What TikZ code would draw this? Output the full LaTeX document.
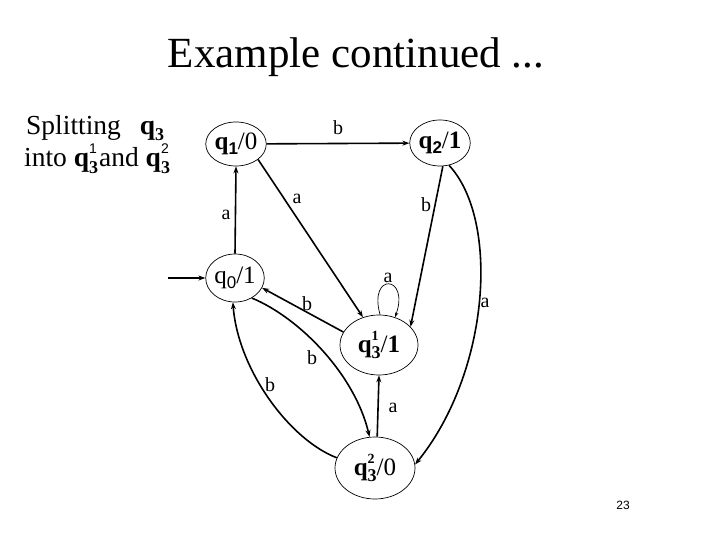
\documentclass[tikz,border=0pt]{standalone}
\usepackage{fontspec}
\setmainfont{Liberation Serif}
\setsansfont{Liberation Sans}
\usetikzlibrary{shapes.geometric,arrows.meta}
% node labels: sans subscript
\newcommand\qsub[1]{\textbf{q}\raisebox{-0.4ex}{\sffamily\bfseries\fontsize{17}{17}\selectfont #1}}
% stacked super/subscript (serif bold subscript)
\newcommand\qsubsup[2]{\textbf{q}\makebox[0pt][l]{\raisebox{1.05ex}{\bfseries\fontsize{14}{14}\selectfont #2}}\raisebox{-0.5ex}{\bfseries\fontsize{18}{18}\selectfont #1}}
% left text
\newcommand\tqsub[1]{\textbf{q}\raisebox{-0.45ex}{\bfseries\fontsize{18}{18}\selectfont #1}}
\newcommand\tqsubsup[2]{\textbf{q}\makebox[0pt][l]{\raisebox{1.1ex}{\sffamily\fontsize{14}{14}\selectfont #2}}\raisebox{-0.55ex}{\bfseries\fontsize{18}{18}\selectfont #1}}
\begin{document}
\begin{tikzpicture}[x=1pt,y=-1pt,
  state/.style={ellipse,draw,line width=0.7pt,inner sep=0pt,font=\fontsize{25}{25}\selectfont},
  edge/.style={line width=1.6pt,-{Stealth[length=7pt,width=5pt]}},
  lbl/.style={font=\fontsize{20}{20}\selectfont,inner sep=0pt}]
\useasboundingbox (0,0) rectangle (720,540);
\node[anchor=base,font=\fontsize{43}{50}\selectfont,inner sep=0pt] (title) at (356,68) {Example continued ...};
\node[anchor=base west,font=\fontsize{27.5}{30}\selectfont,inner sep=0pt] (l1) at (26,135) {Splitting\hspace{19pt}\tqsub{3}};
\node[anchor=base west,font=\fontsize{27.5}{30}\selectfont,inner sep=0pt] (l2) at (24,167) {into \tqsubsup{3}{1}\hspace{1pt}and \tqsubsup{3}{2}};
\node[state,minimum width=50pt,minimum height=44pt] (q1) at (236,144) {\qsub{1}/0};
\node[state,minimum width=48pt,minimum height=46pt] (q2) at (440,143) {\qsub{2}/\textbf{1}};
\node[state,minimum width=50pt,minimum height=48pt] (q0) at (235,278) {q\raisebox{-0.4ex}{\sffamily\fontsize{17}{17}\selectfont 0}/1};
\node[state,minimum width=78pt,minimum height=60pt] (q31) at (379,345) {\qsubsup{3}{1}/\textbf{1}};
\node[state,minimum width=80pt,minimum height=62pt] (q32) at (375,468) {\qsubsup{3}{2}/0};
\coordinate (init) at (168,278);
\draw[edge] (init) -- (q0);
\draw[edge] (q0.north) -- (q1.south);
\node[lbl] (la1) at (226,215) {a};
\draw[edge] (q1) -- (q2);
\node[lbl] (lb1) at (338,128) {b};
\draw[edge] (q1.-35) -- (q31.120);
\node[lbl] (la2) at (297,199) {a};
\draw[edge] (q2.-83) -- (q31.30);
\node[lbl] (lb2) at (426,205) {b};
\draw[edge] (q2.-68) .. controls (500,220) and (490,372) .. (q32.5);
\node[lbl] (la3) at (485,303) {a};
\draw[line width=0.7pt,-{Stealth[length=5pt,width=3.5pt]}] (q31.88) .. controls (368,272) and (410,275) .. (q31.60);
\node[lbl] (la4) at (388,278) {a};
\draw[edge] (q31.160) -- (q0.-20);
\node[lbl] (lb3) at (307,304) {b};
\draw[edge] (q0.-50) .. controls (300,318) and (355,375) .. (q32.100);
\node[lbl] (lb4) at (312,358) {b};
\draw[edge] (q32.165) .. controls (290,440) and (238,370) .. (q0.-95);
\node[lbl] (lb5) at (270,385) {b};
\draw[edge] (q32.86) -- (q31.-90);
\node[lbl] (la5) at (393,408) {a};
\node[font=\sffamily\fontsize{12}{12}\selectfont] (pg) at (623,505) {23};
\end{tikzpicture}
\end{document}
